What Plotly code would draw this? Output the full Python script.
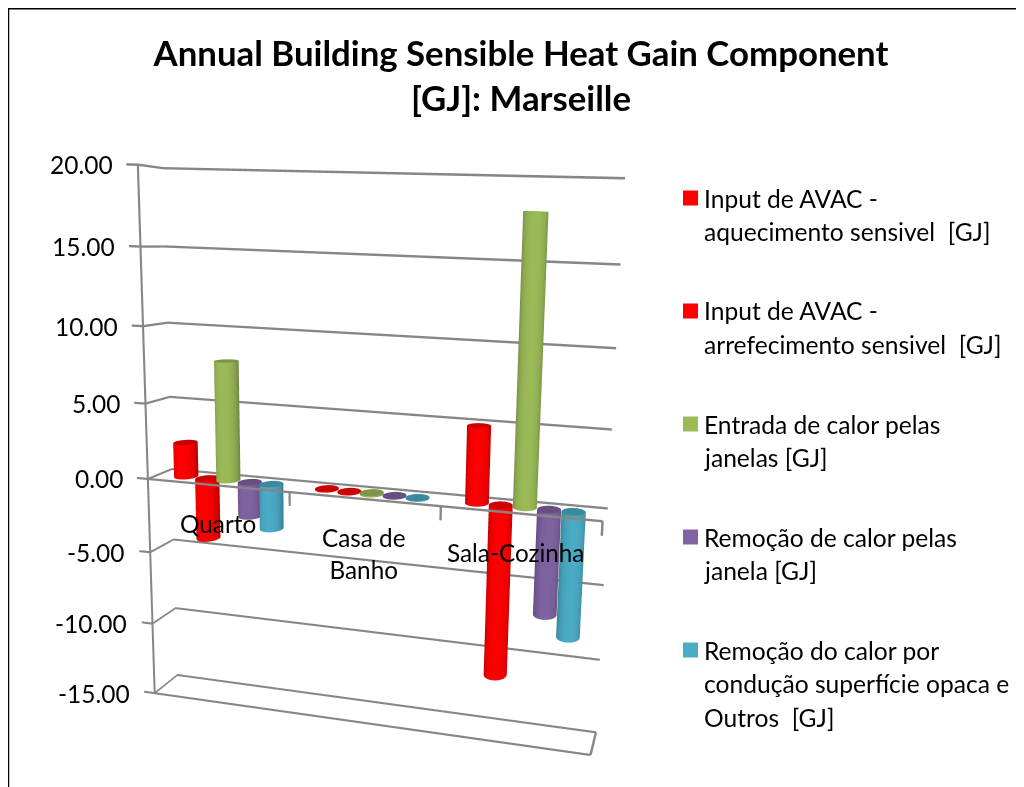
import numpy as np
import plotly.graph_objects as go

categories = ["Quarto", "Casa de<br>Banho", "Sala-Cozinha"]
series_names = [
    "Input de AVAC - aquecimento sensivel  [GJ]",
    "Input de AVAC - arrefecimento sensivel  [GJ]",
    "Entrada de calor pelas janelas [GJ]",
    "Remoção de calor pelas janela [GJ]",
    "Remoção do calor por condução superfície opaca e Outros  [GJ]",
]
heating = [2.3, 0.05, 4.9]
cooling = [-4.1, -0.05, -11.2]
window_in = [7.9, 0.0, 17.9]
window_out = [-2.3, -0.05, -6.8]
opaque = [-3.0, -0.05, -8.1]
series_values = [heating, cooling, window_in, window_out, opaque]
series_colors = ["#FF0000", "#FF0000", "#9BBB59", "#8064A2", "#4BACC6"]
z_ticks = [20, 15, 10, 5, 0, -5, -10, -15]
legend_lines = [
    ["Input de AVAC -", "aquecimento sensivel  [GJ]"],
    ["Input de AVAC -", "arrefecimento sensivel  [GJ]"],
    ["Entrada de calor pelas", "janelas [GJ]"],
    ["Remoção de calor pelas", "janela [GJ]"],
    ["Remoção do calor por", "condução superfície opaca e", "Outros  [GJ]"],
]
FONT = "Lato"
TXT = "#000000"
GRID = "#868686"
PAGE = 8  # the page's own body margin
W, H = 1016, 779
DEPTH = 1.0
BAR_PITCH = 0.153
RX, RY = 0.074, 0.6
N = 36
XR = [-0.12, 3.03]
YR = [-1.06, 1.06]
ZR = [-15.3, 20.3]
LIT = dict(ambient=1, diffuse=0, specular=0, roughness=1, fresnel=0)


def hexrgb(h):
    return np.array([int(h[i:i + 2], 16) for i in (1, 3, 5)], float)


def css(v):
    v = np.clip(v, 0, 255)
    return "rgb(%d,%d,%d)" % tuple(v)


def cylinder(cx, v, color, name):
    base = hexrgb(color)
    lo, hi = min(0, v), max(0, v)
    if hi - lo < 0.02:
        lo, hi = -0.05, 0.05
    th = np.linspace(0, 2 * np.pi, N, endpoint=False)
    xr = cx + RX * np.cos(th)
    yr = RY * np.sin(th)
    xs = np.concatenate([xr, xr, xr, xr, [cx, cx]])
    ys = np.concatenate([yr, yr, yr, yr, [0, 0]])
    zs = np.concatenate([np.full(N, lo), np.full(N, hi), np.full(N, lo), np.full(N, hi), [lo, hi]])
    shade = 0.7 + 0.3 * np.abs(np.sin(th - 0.25)) ** 0.8
    colors = [css(base * s) for s in shade] * 2
    colors += [css(base * 0.8)] * (2 * N + 2)
    i, j, k = [], [], []
    for a in range(N):
        b = (a + 1) % N
        i += [a, b]
        j += [b, N + b]
        k += [N + a, N + a]
        i += [2 * N + a, 3 * N + a]
        j += [2 * N + b, 3 * N + b]
        k += [4 * N, 4 * N + 1]
    return go.Mesh3d(x=xs, y=ys, z=zs, i=i, j=j, k=k, vertexcolor=colors, flatshading=False,
                     lighting=LIT, name=name, hoverinfo="name", showlegend=False, showscale=False)


fig = go.Figure()
for s, (vals, col, nm) in enumerate(zip(series_values, series_colors, series_names)):
    for c_, v in enumerate(vals):
        fig.add_trace(cylinder(c_ + 0.5 + (s - 2) * BAR_PITCH, v, col, nm))

# gridlines and axes as thin ribbons, so that they keep their width in WebGL
ZW, XW = 0.075, 0.0075
rx, ry, rz, ri, rj, rk = [], [], [], [], [], []


def ribbon(a, b, off):
    n = len(rx)
    for p_, sgn in ((a, -1), (a, 1), (b, 1), (b, -1)):
        rx.append(p_[0] + sgn * off[0]); ry.append(p_[1]); rz.append(p_[2] + sgn * off[1])
    ri.extend([n, n]); rj.extend([n + 1, n + 2]); rk.extend([n + 2, n + 3])


for t in z_ticks:
    ribbon((0, -DEPTH, t), (0, DEPTH, t), (0, ZW))
    ribbon((0, DEPTH, t), (3, DEPTH, t), (0, ZW))
    ribbon((-0.08, -DEPTH, t), (0, -DEPTH, t), (0, ZW))
ribbon((0, -DEPTH, -15), (3, -DEPTH, -15), (0, ZW))
ribbon((3, -DEPTH, -15), (3, DEPTH, -15), (XW, 0))
ribbon((0, -DEPTH, 0), (3, -DEPTH, 0), (0, ZW))
ribbon((0, -DEPTH, -15), (0, -DEPTH, 20), (XW, 0))
for c_ in (1, 2, 3):
    ribbon((c_, -DEPTH, 0), (c_, -DEPTH, -0.9), (XW, 0))
fig.add_trace(go.Mesh3d(x=rx, y=ry, z=rz, i=ri, j=rj, k=rk, color=GRID, flatshading=True,
                        lighting=LIT, hoverinfo="skip", showlegend=False, showscale=False))

scene_ann = []
for t in z_ticks:
    scene_ann.append(dict(x=0, y=-DEPTH, z=t, text="%.2f" % t, showarrow=False, xanchor="right",
                          yanchor="middle", xshift=-23, font=dict(family=FONT, size=24.5, color=TXT)))
for c_, (name, dx) in enumerate(zip(categories, (0, 0, -5))):
    scene_ann.append(dict(x=c_ + 0.5, y=-DEPTH, z=0, text=name, showarrow=False, xanchor="center",
                          yanchor="top", yshift=-22, xshift=dx, font=dict(family=FONT, size=24.3, color=TXT)))

hidden = dict(visible=True, showgrid=False, showline=False, zeroline=False, showticklabels=False,
              ticks="", showbackground=False, showspikes=False, title=dict(text=""))
fig.update_layout(
    width=W, height=H, margin=dict(l=0, r=0, t=0, b=0), paper_bgcolor="white", showlegend=False,
    title=dict(text="<b>Annual Building Sensible Heat Gain Component<br>[GJ]: Marseille</b>",
               x=513 / W, xanchor="center", y=1 - 58 / H, yanchor="top",
               font=dict(family=FONT, size=34.8, color=TXT)),
    scene=dict(
        domain=dict(x=[0, 1], y=[0, 1]),
        dragmode="orbit",
        xaxis=dict(hidden, range=XR),
        yaxis=dict(hidden, range=YR),
        zaxis=dict(hidden, range=ZR),
        aspectmode="manual", aspectratio=dict(x=0.8792, y=0.0833, z=1.0),
        camera=dict(eye=dict(x=0.5805, y=-1.5469, z=0.3881), center=dict(x=0.1834, y=0.4272, z=0.0475),
                    up=dict(x=-0.0284, y=-0.0325, z=1), projection=dict(type="perspective")),
        annotations=scene_ann,
    ),
)
shapes = [
    dict(type="line", xref="paper", yref="paper", x0=0.5 / W, x1=0.5 / W, y0=0, y1=1, line=dict(color="black", width=1.5)),
    dict(type="line", xref="paper", yref="paper", x0=0, x1=1, y0=1 - 0.5 / H, y1=1 - 0.5 / H, line=dict(color="black", width=2)),
]
anns = []
tops = [198, 311, 424, 537, 650]
for lines, top, col in zip(legend_lines, tops, series_colors):
    shapes.append(dict(type="rect", xref="paper", yref="paper", x0=(683 - PAGE) / W, x1=(698 - PAGE) / W,
                       y0=1 - (top - PAGE + 7.5) / H, y1=1 - (top - PAGE - 7.5) / H, fillcolor=col, line=dict(width=0)))
    for n, line in enumerate(lines):
        anns.append(dict(xref="paper", yref="paper", x=(702 - PAGE) / W, y=1 - (top - PAGE + n * 33.5) / H,
                         text=line.replace("  ", "&nbsp; "), showarrow=False, xanchor="left", yanchor="middle",
                         font=dict(family=FONT, size=24.6, color=TXT)))
fig.update_layout(shapes=shapes, annotations=anns)
fig.write_html("out.html")
